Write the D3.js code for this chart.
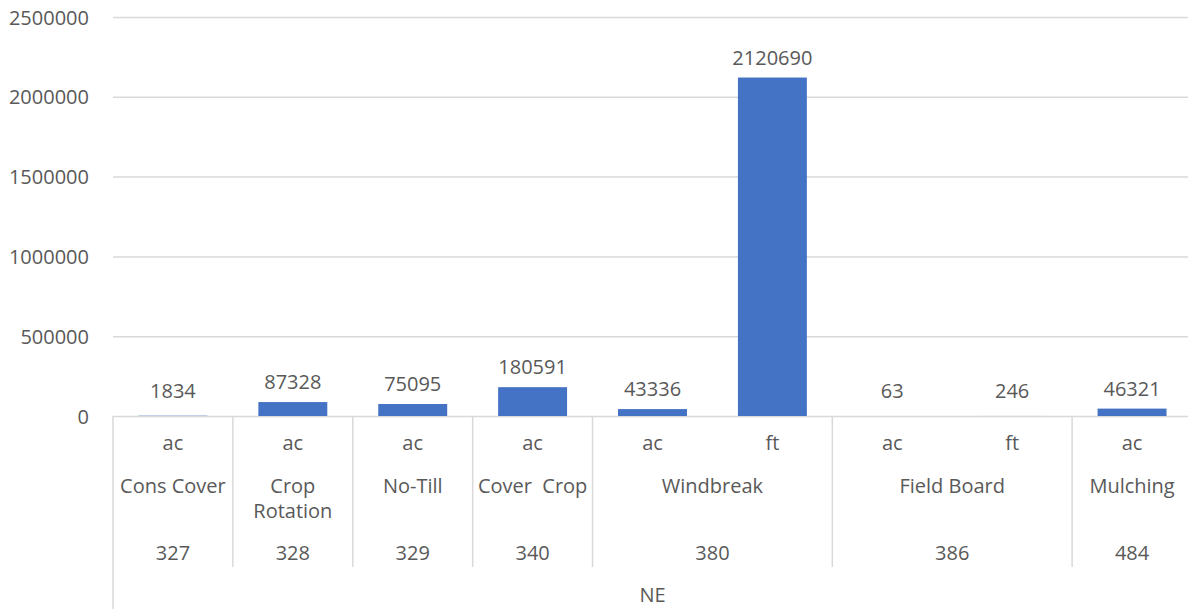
<!DOCTYPE html>
<html>
<head>
<meta charset="utf-8">
<script src="https://cdn.jsdelivr.net/npm/d3@7"></script>
<style>
  body { margin: 0; background: #fff; }
  text { font-family: "Open Sans", sans-serif; fill: #595959; white-space: pre; }
</style>
</head>
<body>
<div id="chart"></div>
<script>

//********************* DATA ************************************

var units  = ["ac", "ac", "ac", "ac", "ac", "ft", "ac", "ft", "ac"];
var values = [1834, 87328, 75095, 180591, 43336, 2120690, 63, 246, 46321];

// practice groups (each spans one or more unit columns)
var practices = ["Cons Cover", "Crop Rotation", "No-Till", "Cover  Crop", "Windbreak", "Field Board", "Mulching"];
var codes     = ["327", "328", "329", "340", "380", "386", "484"];
var spans     = [1, 1, 1, 1, 2, 2, 1];
var region    = "NE";

var yTicks = [0, 500000, 1000000, 1500000, 2000000, 2500000];

//********************* DIMENSIONS ************************************

var W = 1188, H = 609;
var plotLeft = 113, plotRight = 1192, plotTop = 17, plotBottom = 416;
var gridColor = "#d9d9d9";

var svg = d3.select("#chart").append("svg")
    .attr("width", W)
    .attr("height", H);

var x = d3.scaleBand()
    .domain(d3.range(values.length))
    .range([plotLeft, plotRight])
    .paddingInner(0.425)
    .paddingOuter(0.2125);

var y = d3.scaleLinear()
    .domain([0, 2500000])
    .range([plotBottom, plotTop]);

var step = x.step();
// left edge of column i (category slot, not the bar)
function colEdge(i) { return plotLeft + i * (plotRight - plotLeft) / values.length; }

//********************* GRID + Y AXIS ************************************

var yAxis = svg.append("g")
    .attr("transform", "translate(" + plotLeft + ",0)")
    .call(d3.axisLeft(y).tickValues(yTicks).tickSize(-(plotRight - plotLeft)).tickPadding(24)
      .tickFormat(d3.format("d")));

yAxis.select(".domain").remove();
yAxis.selectAll(".tick line").attr("stroke", gridColor).attr("stroke-width", 1.5);
yAxis.selectAll(".tick text")
    .attr("font-size", "20px")
    .attr("font-family", "Open Sans, sans-serif")
    .attr("fill", "#595959")
    .attr("dy", "0.35em");

//********************* BARS ************************************

svg.selectAll(".bar")
    .data(values)
  .enter().append("rect")
    .attr("class", "bar")
    .attr("x", function(d, i) { return x(i); })
    .attr("width", x.bandwidth())
    .attr("y", function(d) { return y(d); })
    .attr("height", function(d) { return plotBottom - y(d); })
    .attr("fill", "#4472c4");

svg.selectAll(".label")
    .data(values)
  .enter().append("text")
    .attr("class", "label")
    .attr("x", function(d, i) { return x(i) + x.bandwidth() / 2; })
    .attr("y", function(d) { return Math.min(y(d) - 13, 398); })
    .attr("text-anchor", "middle")
    .attr("font-size", "20px")
    .text(function(d) { return d; });

//********************* CATEGORY AXIS ************************************

// unit row
svg.selectAll(".unit")
    .data(units)
  .enter().append("text")
    .attr("class", "unit")
    .attr("x", function(d, i) { return colEdge(i) + step / 2; })
    .attr("y", 443)
    .attr("dy", "0.35em")
    .attr("text-anchor", "middle")
    .attr("font-size", "20px")
    .text(function(d) { return d; });

// group starts
var starts = [];
var acc = 0;
spans.forEach(function(s) { starts.push(acc); acc += s; });

var dividers = svg.append("g");
starts.forEach(function(s) {
  dividers.append("line")
      .attr("x1", colEdge(s)).attr("x2", colEdge(s))
      .attr("y1", plotBottom).attr("y2", s === 0 ? H : 567)
      .attr("stroke", gridColor)
      .attr("stroke-width", 1.5);
});
dividers.append("line")
    .attr("x1", colEdge(values.length)).attr("x2", colEdge(values.length))
    .attr("y1", plotBottom).attr("y2", H)
    .attr("stroke", gridColor)
    .attr("stroke-width", 1.5);

practices.forEach(function(name, g) {
  var cx = colEdge(starts[g]) + spans[g] * step / 2;
  var t = svg.append("text")
      .attr("x", cx)
      .attr("y", 486)
      .attr("dy", "0.35em")
      .attr("text-anchor", "middle")
      .attr("font-size", "20px")
      .text(name);
  // wrap onto two lines when it doesn't fit
  if (t.node().getComputedTextLength() > spans[g] * step - 6) {
    var words = name.split(" ");
    t.text(null);
    words.forEach(function(w, k) {
      t.append("tspan").attr("x", cx).attr("dy", k === 0 ? "0.35em" : "25px").text(w);
    });
  }

  svg.append("text")
      .attr("x", cx)
      .attr("y", 553)
      .attr("dy", "0.35em")
      .attr("text-anchor", "middle")
      .attr("font-size", "20px")
      .text(codes[g]);
});

svg.append("text")
    .attr("x", (plotLeft + plotRight) / 2)
    .attr("y", 595)
    .attr("dy", "0.35em")
    .attr("text-anchor", "middle")
    .attr("font-size", "20px")
    .text(region);

</script>
</body>
</html>
